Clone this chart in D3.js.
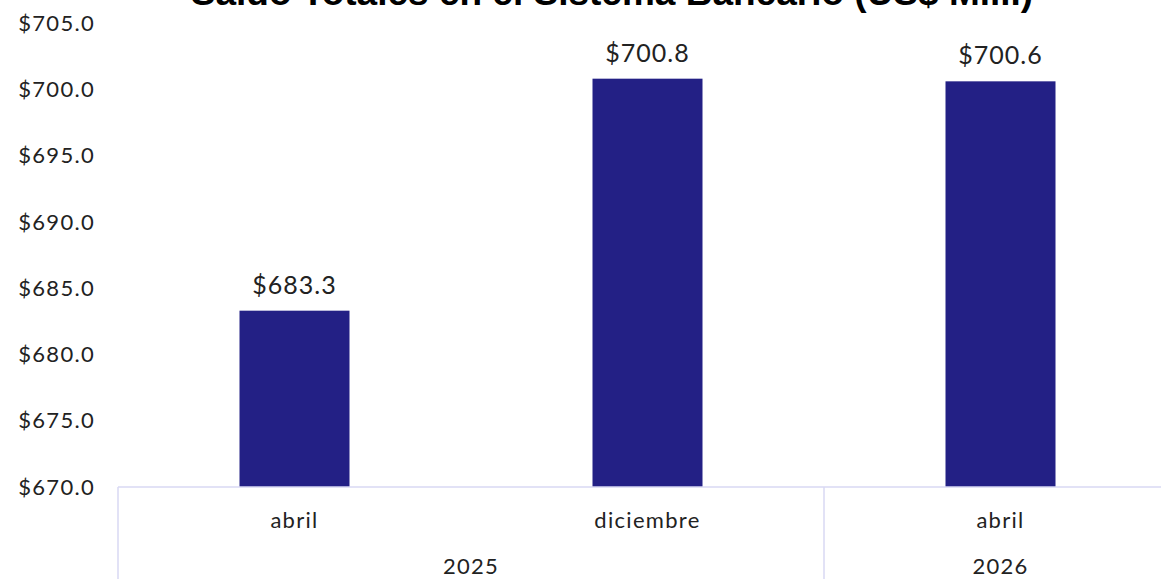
<!DOCTYPE html>
<html>
<head>
<meta charset="utf-8">
<script src="https://cdn.jsdelivr.net/npm/d3@7"></script>
<style>
  body { margin: 0; background: #fff; }
  svg { display: block; }
  .tick-label { font-family: Lato, "Noto Sans", sans-serif; font-size: 22px; letter-spacing: 1.3px; fill: #222; }
  .data-label { font-family: Lato, "Noto Sans", sans-serif; font-size: 25px; letter-spacing: 1px; fill: #222; }
</style>
</head>
<body>
<div id="chart"></div>
<script>
// 数据
const months = ["abril", "diciembre", "abril"];
const years = ["2025", "2025", "2026"];
const values = [683.3, 700.8, 700.6];
const yTicks = [670, 675, 680, 685, 690, 695, 700, 705];
const title = "Saldo Totales en el Sistema Bancario (US$ Mill.)";

const width = 1161, height = 579;
const margin = { left: 118, top: 23, bottom: 92 };
const axisColor = "#d9d9f3";
const barColor = "#232085";

const svg = d3.select("#chart").append("svg")
  .attr("width", width)
  .attr("height", height);

// 刻度
const y = d3.scaleLinear().domain([670, 705]).range([height - margin.bottom, margin.top]);
const x = d3.scaleBand().domain(d3.range(months.length)).range([margin.left, margin.left + 353 * 3]).paddingInner(0).paddingOuter(0);
const barW = 110;

// 标题（顶部被裁切，与原图一致）
svg.append("text")
  .attr("x", 612)
  .attr("y", 5)
  .attr("text-anchor", "middle")
  .style("font-family", "Liberation Sans, Arial, sans-serif")
  .style("font-weight", "bold")
  .style("font-size", "37px")
  .style("fill", "#000")
  .text(title);

// Y 轴标签
svg.append("g").selectAll("text")
  .data(yTicks)
  .join("text")
  .attr("class", "tick-label")
  .attr("x", 95)
  .attr("y", d => y(d))
  .attr("dy", "0.35em")
  .attr("text-anchor", "end")
  .text(d => "$" + d3.format(".1f")(d));

// 柱子
svg.append("g").selectAll("rect")
  .data(values)
  .join("rect")
  .attr("x", (d, i) => x(i) + x.bandwidth() / 2 - barW / 2)
  .attr("width", barW)
  .attr("y", d => y(d))
  .attr("height", d => y(670) - y(d))
  .attr("fill", barColor);

// 数据标签
svg.append("g").selectAll("text")
  .data(values)
  .join("text")
  .attr("class", "data-label")
  .attr("x", (d, i) => x(i) + x.bandwidth() / 2)
  .attr("y", d => y(d) - 17)
  .attr("text-anchor", "middle")
  .text(d => "$" + d3.format(".1f")(d));

// X 轴线和分隔线
const axisY = y(670);
svg.append("line")
  .attr("x1", margin.left).attr("x2", width)
  .attr("y1", axisY).attr("y2", axisY)
  .attr("stroke", axisColor).attr("stroke-width", 1.5);

// 年份分组
const groups = [];
years.forEach((yr, i) => {
  const last = groups[groups.length - 1];
  if (last && last.year === yr) last.end = i;
  else groups.push({ year: yr, start: i, end: i });
});

groups.forEach(g => {
  const x0 = x(g.start);
  const x1 = x(g.end) + x.bandwidth();
  svg.append("line")
    .attr("x1", x0).attr("x2", x0)
    .attr("y1", axisY).attr("y2", height)
    .attr("stroke", axisColor).attr("stroke-width", 1.5);
  svg.append("text")
    .attr("class", "tick-label")
    .attr("x", (x0 + x1) / 2)
    .attr("y", 574)
    .attr("text-anchor", "middle")
    .text(g.year);
});

// 月份标签
svg.append("g").selectAll("text")
  .data(months)
  .join("text")
  .attr("class", "tick-label")
  .attr("x", (d, i) => x(i) + x.bandwidth() / 2)
  .attr("y", 528)
  .attr("text-anchor", "middle")
  .text(d => d);
</script>
</body>
</html>
